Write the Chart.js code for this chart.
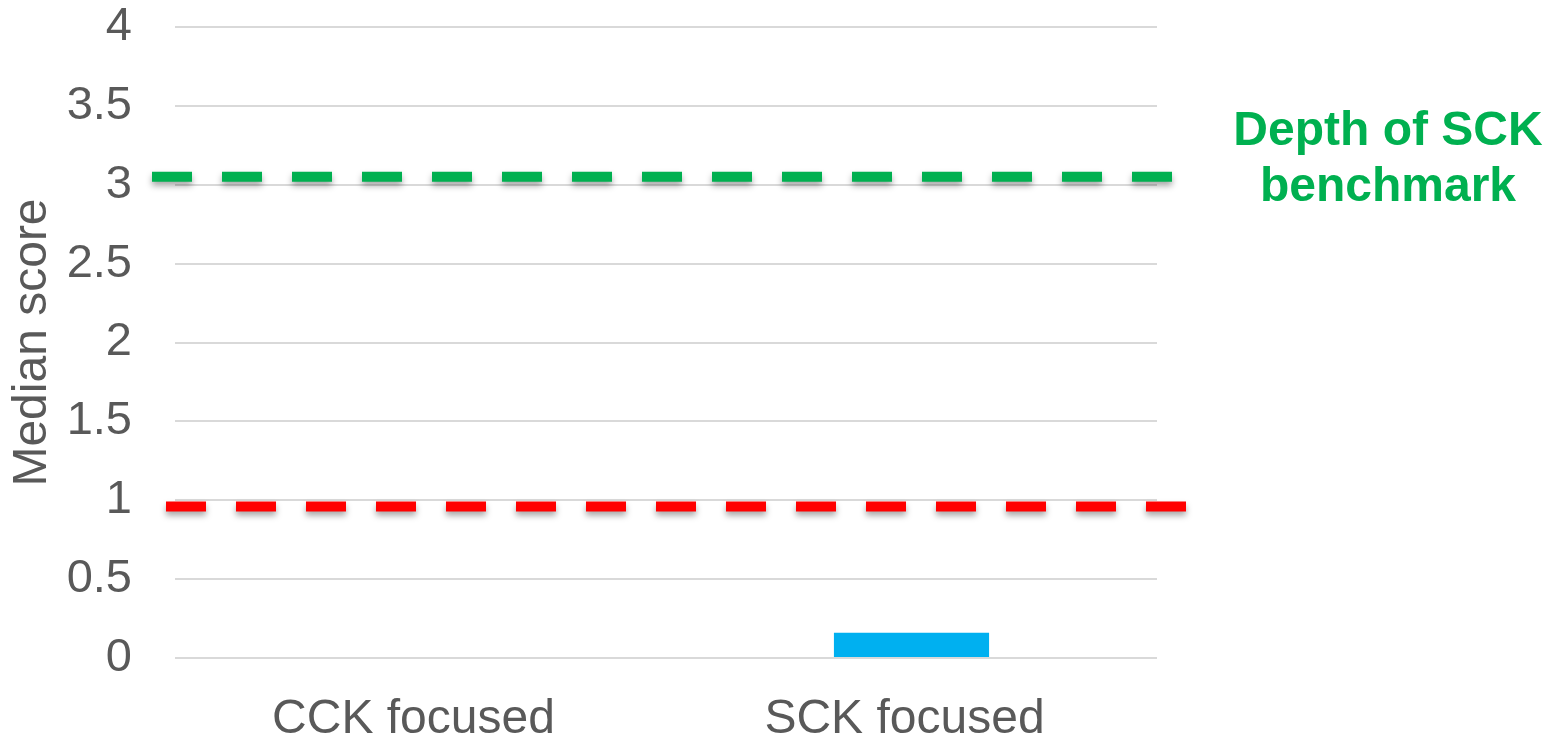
<!DOCTYPE html>
<html>
<head>
<meta charset="utf-8">
<script src="https://cdn.jsdelivr.net/npm/chart.js@4/dist/chart.umd.min.js"></script>
<style>
	html, body { margin: 0; padding: 0; background: #fff; }
	#wrap { width: 1560px; height: 737px; position: relative; }
</style>
</head>
<body>
<div id="wrap"><canvas id="chart"></canvas></div>
<script>
const categories = ["CCK focused", "SCK focused"];
const medianScores = [0, 0.16];
const yTicks = [0, 0.5, 1, 1.5, 2, 2.5, 3, 3.5, 4];

// reference lines drawn over the bars
const benchmarkLines = [
	{ value: 3.05, color: "#00B050", startOffset: -23, endOffset: 16 },
	{ value: 0.96, color: "#FF0000", startOffset: -9, endOffset: 29 },
];
const benchmarkLabel = ["Depth of SCK", "benchmark"];

const fontFamily = "'Liberation Sans', Arial, sans-serif";

const benchmarkPlugin = {
	id: "benchmarks",
	afterDatasetsDraw(chart) {
		const { ctx, chartArea, scales } = chart;
		ctx.save();
		benchmarkLines.forEach((b) => {
			const y = scales.y.getPixelForValue(b.value);
			ctx.beginPath();
			ctx.setLineDash([40, 30]);
			ctx.lineWidth = 10;
			ctx.lineCap = "butt";
			ctx.strokeStyle = b.color;
			ctx.shadowColor = "rgba(0,0,0,0.35)";
			ctx.shadowBlur = 6;
			ctx.shadowOffsetY = 4;
			ctx.moveTo(chartArea.left + b.startOffset, y);
			ctx.lineTo(chartArea.right + b.endOffset, y);
			ctx.stroke();
		});
		ctx.restore();

		// label for the green benchmark
		ctx.save();
		const yg = scales.y.getPixelForValue(benchmarkLines[0].value);
		ctx.fillStyle = "#00B050";
		ctx.font = `bold 48px ${fontFamily}`;
		ctx.textAlign = "center";
		ctx.textBaseline = "middle";
		ctx.fillText(benchmarkLabel[0], chartArea.right + 231, yg - 45);
		ctx.fillText(benchmarkLabel[1], chartArea.right + 231, yg + 11);
		ctx.restore();
	},
};

new Chart(document.getElementById("chart"), {
	type: "bar",
	data: {
		labels: categories,
		datasets: [
			{
				label: "Median score",
				data: medianScores,
				backgroundColor: "#00B0F0",
				borderWidth: 0,
				categoryPercentage: 1,
				barPercentage: 0.316,
			},
		],
	},
	options: {
		responsive: true,
		maintainAspectRatio: false,
		animation: false,
		layout: { padding: { left: 0, right: 403, top: 0, bottom: 0 } },
		plugins: {
			legend: { display: false },
			tooltip: { enabled: false },
		},
		scales: {
			x: {
				grid: { display: false },
				border: { display: false },
				ticks: {
					color: "#595959",
					font: { family: fontFamily, size: 48 },
					padding: 25,
					labelOffset: -7,
				},
				afterFit: (s) => { s.height = 79; },
			},
			y: {
				min: 0,
				max: 4,
				afterBuildTicks: (s) => { s.ticks = yTicks.map((v) => ({ value: v })); },
				grid: { color: "#D9D9D9", lineWidth: 2, drawTicks: false },
				border: { display: false },
				ticks: {
					color: "#595959",
					font: { family: fontFamily, size: 47 },
					padding: 43,
					callback: (v) => String(v),
				},
				title: {
					display: true,
					text: "Median score",
					color: "#595959",
					font: { family: fontFamily, size: 48 },
					padding: { top: 4, bottom: 0 },
				},
				afterFit: (s) => {
					s.width = 175;
					s.paddingTop = 27;
				},
			},
		},
	},
	plugins: [benchmarkPlugin],
});
</script>
</body>
</html>
